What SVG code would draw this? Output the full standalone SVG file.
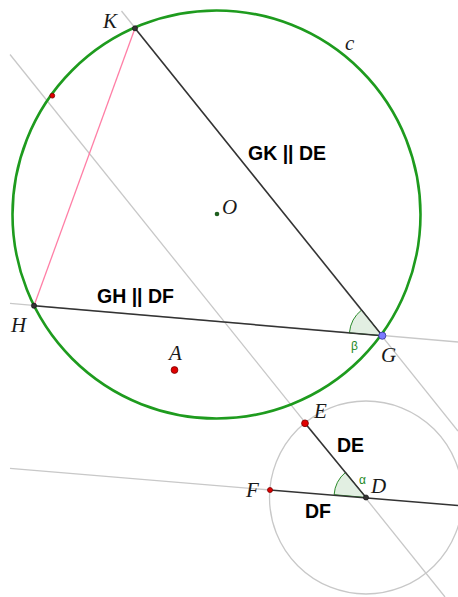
<svg xmlns="http://www.w3.org/2000/svg" width="458" height="597" viewBox="0 0 458 597">
<style>
.aux{stroke:#c8c8c8;stroke-width:1.3;fill:none}
.seg{stroke:#333;stroke-width:1.5;fill:none}
.lbl{font-family:"Liberation Serif",serif;font-style:italic;font-size:21px;fill:#1a1a1a}
.bold{font-family:"Liberation Sans",Arial,sans-serif;font-weight:bold;font-size:19.5px;fill:#000}
.ang{fill:#e2efe2;stroke:#2a8a2a;stroke-width:1}
.gr{font-family:"Liberation Sans",Arial,sans-serif;font-size:12px;fill:#1f8a1f}
.red{fill:#e00000;stroke:#700;stroke-width:0.8}
.blk{fill:#333;stroke:#111;stroke-width:0.6}
</style>
<rect width="458" height="597" fill="#fff"/>
<g id="connectors">
  <line class="aux" x1="10" y1="54.5" x2="445" y2="597"/>
  <line class="aux" x1="121.5" y1="11" x2="458" y2="431"/>
  <line class="aux" x1="10" y1="303.3" x2="458" y2="342"/>
  <line class="aux" x1="10" y1="468.3" x2="270" y2="490"/>
  <circle id="circle-d" class="aux" cx="366" cy="497.5" r="96.5"/>
  <circle id="circle-c" cx="216.5" cy="214.5" r="204" fill="none" stroke="#1e9b1e" stroke-width="2.6"/>
  <line x1="135" y1="28.3" x2="34" y2="305.7" stroke="#ff7fa6" stroke-width="1.3"/>
  <path class="ang" d="M382.3,335.7 L349.4,332.9 A33,33 0 0 1 361.7,309.9 Z"/>
  <path class="ang" d="M366,497.5 L334.1,494.7 A32,32 0 0 1 345.6,472.3 Z"/>
  <line class="seg" x1="135" y1="28.3" x2="382.3" y2="335.7"/>
  <line class="seg" x1="34" y1="305.7" x2="382.3" y2="335.7"/>
  <line class="seg" x1="305" y1="423.3" x2="366" y2="497.5"/>
  <line class="seg" x1="270" y1="490" x2="458" y2="505.6"/>
</g>
<g id="label-c"><text class="lbl" x="345" y="50">c</text></g>
<g id="label-GK-DE"><text class="bold" x="248" y="160">GK || DE</text></g>
<g id="label-GH-DF"><text class="bold" x="97" y="303">GH || DF</text></g>
<g id="label-DE"><text class="bold" x="337" y="452">DE</text></g>
<g id="label-DF"><text class="bold" x="305" y="518">DF</text></g>
<g id="beta"><text class="gr" x="351" y="350">β</text></g>
<g id="alpha"><text class="gr" x="359" y="484">α</text></g>
<g id="node-K"><circle class="blk" cx="135" cy="28.3" r="2.6"/><text class="lbl" x="103" y="28">K</text></g>
<g id="node-P"><circle class="red" cx="52.3" cy="95.7" r="2.4"/></g>
<g id="node-O"><circle cx="217" cy="214" r="2.3" fill="#1f5f1f"/><text class="lbl" x="222" y="214">O</text></g>
<g id="node-H"><circle class="blk" cx="34" cy="305.7" r="2.6"/><text class="lbl" x="11" y="332">H</text></g>
<g id="node-A"><circle class="red" cx="174.5" cy="370" r="3.4"/><text class="lbl" x="169" y="360">A</text></g>
<g id="node-G"><circle cx="382.3" cy="335.7" r="3.6" fill="#7a7aff" stroke="#333399" stroke-width="0.8"/><text class="lbl" x="381" y="362">G</text></g>
<g id="node-E"><circle class="red" cx="305" cy="423.3" r="3.4"/><text class="lbl" x="314" y="418">E</text></g>
<g id="node-F"><circle class="red" cx="270" cy="490" r="2.5"/><text class="lbl" x="246" y="497">F</text></g>
<g id="node-D"><circle class="blk" cx="366" cy="497.5" r="2.6"/><text class="lbl" x="371" y="493">D</text></g>
</svg>
